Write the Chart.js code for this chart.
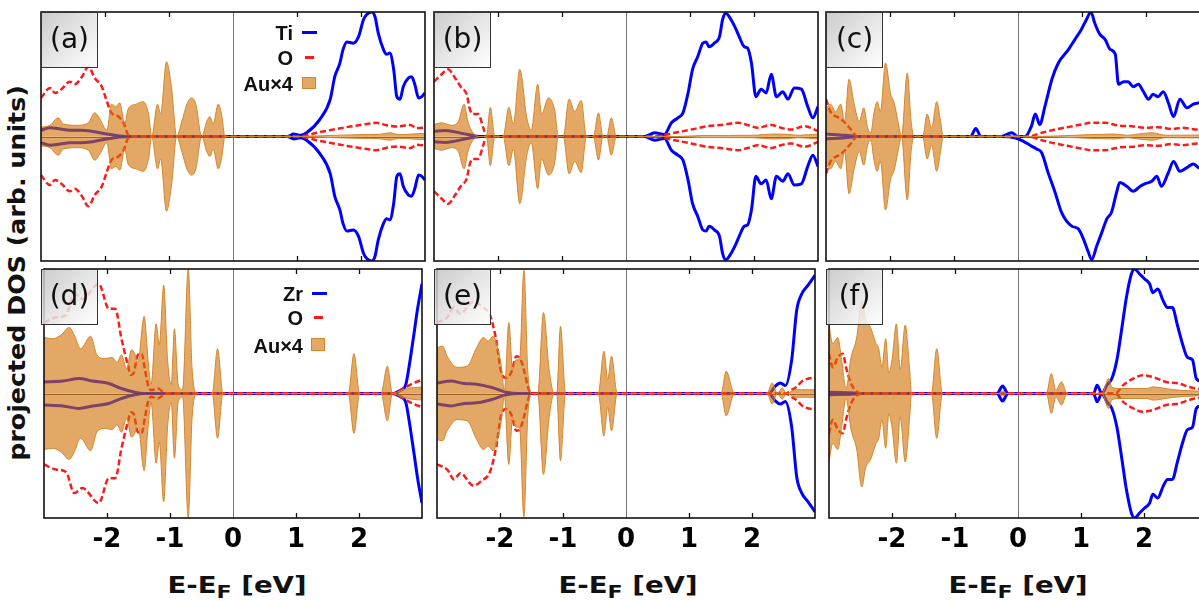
<!DOCTYPE html>
<html>
<head>
<meta charset="utf-8">
<script src="https://cdn.jsdelivr.net/npm/chart.js@4.4.0/dist/chart.umd.min.js"></script>
<style>
  html, body { margin: 0; padding: 0; background: #fff; }
  body { width: 1199px; height: 601px; position: relative; overflow: hidden; font-family: "DejaVu Sans", sans-serif; }
  canvas { position: absolute; }
  .tag { position: absolute; width: 57px; height: 56px; box-sizing: border-box; border: 1px solid #333;
         background: linear-gradient(135deg, rgba(195,195,195,0.85), rgba(255,255,255,0.85));
         font-size: 28px; line-height: 52px; text-align: center; color: #111; z-index: 2; }
  .lg { position: absolute; width: 100px; text-align: right; font-family: "Liberation Sans", Arial, sans-serif;
        font-weight: bold; font-size: 20px; line-height: 24px; color: #111; z-index: 2; }
  .sw { position: absolute; z-index: 2; }
  .xt { position: absolute; width: 240px; text-align: center; font-weight: bold; font-size: 23px; line-height: 30px;
        transform: scaleX(1.2); color: #111; }
  .xt sub { font-size: 0.8em; vertical-align: -0.25em; }
  .yt { position: absolute; left: -193px; top: 258px; width: 420px; height: 30px; text-align: center;
        font-weight: bold; font-size: 23px; line-height: 30px; transform: rotate(-90deg) scaleX(1.1); color: #111; }
</style>
</head>
<body>

<div class="yt">projected DOS (arb. units)</div>
<div class="xt" style="left:117px; top:570px;">E-E<sub>F</sub> [eV]</div>
<div class="xt" style="left:508px; top:570px;">E-E<sub>F</sub> [eV]</div>
<div class="xt" style="left:898px; top:570px;">E-E<sub>F</sub> [eV]</div>

<!-- legend, panel (a) -->
<div class="lg" style="left:193px; top:21px;">Ti</div>
<div class="lg" style="left:193px; top:46px;">O</div>
<div class="lg" style="left:193px; top:72px;">Au×4</div>
<div class="sw" style="left:302px; top:31px; width:15px; height:3px; background:#0000ff;"></div>
<div class="sw" style="left:305px; top:56px; width:9px; height:3px; background:#ff1a1a;"></div>
<div class="sw" style="left:302px; top:77px; width:14px; height:12px; box-sizing:border-box; border:1px solid #d4862a; background:rgba(210,110,0,0.6);"></div>

<!-- legend, panel (d) -->
<div class="lg" style="left:203px; top:282px;">Zr</div>
<div class="lg" style="left:203px; top:306px;">O</div>
<div class="lg" style="left:203px; top:334px;">Au×4</div>
<div class="sw" style="left:312px; top:292px; width:15px; height:3px; background:#0000ff;"></div>
<div class="sw" style="left:314px; top:316px; width:9px; height:3px; background:#ff1a1a;"></div>
<div class="sw" style="left:311px; top:338px; width:14px; height:13px; box-sizing:border-box; border:1px solid #d4862a; background:rgba(210,110,0,0.6);"></div>

<script>
// ── Data (energy in eV, DOS in arb. units; spin-down drawn on a reversed axis) ──

const energyTicks = [-3, -2, -1, 0, 1, 2, 3];
const panelTags = ["(a)", "(b)", "(c)", "(d)", "(e)", "(f)"];

// (a) Ti / O / Au
const tiA = [[-3.0,0.05],[-2.86,0.07],[-2.70,0.06],[-2.55,0.05],[-2.39,0.05],[-2.23,0.045],[-2.08,0.03],[-1.92,0.016],[-1.77,0.005],[-1.6,0],
  [0.85,0],[0.95,0.02],[1.05,0.01],[1.15,0.03],[1.36,0.14],[1.52,0.30],[1.59,0.48],[1.67,0.59],[1.72,0.70],[1.78,0.76],[1.88,0.75],
  [1.96,0.80],[2.04,0.94],[2.09,0.98],[2.17,1.0],[2.22,0.96],[2.27,0.83],[2.35,0.70],[2.40,0.66],[2.45,0.67],[2.51,0.54],[2.56,0.32],
  [2.61,0.30],[2.66,0.40],[2.74,0.47],[2.79,0.48],[2.84,0.42],[2.90,0.31],[2.95,0.32],[3.0,0.35]];
const oA = [[-3.0,0.31],[-2.86,0.39],[-2.78,0.35],[-2.68,0.38],[-2.55,0.44],[-2.47,0.42],[-2.36,0.48],[-2.26,0.56],[-2.16,0.47],[-2.05,0.40],
  [-1.97,0.28],[-1.90,0.19],[-1.79,0.16],[-1.71,0.11],[-1.64,0.016],[-1.56,0],[1.05,0],[1.31,0.03],[1.57,0.056],[1.83,0.08],[2.09,0.10],
  [2.24,0.11],[2.40,0.09],[2.56,0.08],[2.77,0.093],[2.87,0.067],[3.0,0.072]];
const auA = [[-3.0,0.075],[-2.86,0.09],[-2.73,0.15],[-2.65,0.10],[-2.44,0.09],[-2.26,0.11],[-2.16,0.19],[-2.08,0.14],[-1.97,0.05],[-1.90,0.26],
  [-1.83,0.24],[-1.77,0.27],[-1.69,0.10],[-1.64,0.22],[-1.51,0.26],[-1.40,0.28],[-1.32,0.18],[-1.27,0],[-1.18,0.26],[-1.13,0.18],[-1.04,0.60],
  [-0.96,0.39],[-0.88,0],[-0.80,0.12],[-0.72,0.26],[-0.65,0.31],[-0.58,0.26],[-0.49,0],[-0.41,0.12],[-0.36,0.16],[-0.31,0.10],[-0.23,0.26],
  [-0.18,0.18],[-0.125,0],[1.0,0],[1.5,0.008],[2.0,0.015],[2.3,0.018],[2.45,0.03],[2.6,0.015],[2.8,0.02],[3.0,0.025]];

// (b) Ti / O / Au
const tiB = [[-3.0,0.043],[-2.83,0.048],[-2.67,0.037],[-2.52,0.021],[-2.36,0.005],[-2.26,0],[0.29,0],[0.45,0.03],[0.60,0.016],[0.71,0.11],
  [0.81,0.15],[0.89,0.19],[0.97,0.35],[1.04,0.54],[1.12,0.64],[1.20,0.75],[1.25,0.76],[1.30,0.72],[1.38,0.75],[1.46,0.80],[1.51,0.94],
  [1.56,0.99],[1.64,0.94],[1.72,0.86],[1.77,0.80],[1.85,0.72],[1.90,0.71],[1.96,0.59],[2.03,0.32],[2.11,0.38],[2.19,0.35],[2.27,0.50],
  [2.35,0.32],[2.45,0.36],[2.53,0.30],[2.63,0.39],[2.74,0.38],[2.84,0.24],[2.92,0.15],[3.0,0.24]];
const oB = [[-3.0,0.44],[-2.88,0.50],[-2.78,0.54],[-2.67,0.47],[-2.57,0.39],[-2.49,0.34],[-2.44,0.22],[-2.39,0.18],[-2.31,0.18],[-2.23,0.07],
  [-2.18,0],[0.45,0],[0.76,0.03],[1.02,0.056],[1.28,0.083],[1.54,0.096],[1.75,0.11],[1.93,0.088],[2.06,0.07],[2.27,0.093],[2.42,0.07],
  [2.58,0.056],[2.79,0.083],[3.0,0.043]];
const auB = [[-3.0,0.096],[-2.88,0.11],[-2.73,0.09],[-2.62,0.12],[-2.53,0.26],[-2.47,0.12],[-2.39,0.03],[-2.28,0],[-2.18,0],[-2.12,0.235],
  [-2.05,0],[-1.92,0],[-1.83,0.235],[-1.76,0.10],[-1.66,0.54],[-1.55,0.15],[-1.48,0.05],[-1.38,0.42],[-1.32,0.18],[-1.21,0.31],[-1.11,0.20],
  [-1.06,0],[-0.98,0],[-0.89,0.30],[-0.80,0.20],[-0.70,0.29],[-0.62,0],[-0.51,0],[-0.43,0.19],[-0.36,0],[-0.30,0],[-0.23,0.15],[-0.15,0],
  [0.8,0],[1.2,0.008],[2.0,0.01],[2.3,0.02],[2.5,0.018],[2.7,0.01],[3.0,0.02]];

// (c) Ti (up and down differ) / O / Au
const tiCUp = [[-3.0,0.02],[-2.7,0.01],[-2.5,0],[-0.74,0],[-0.66,0.064],[-0.58,0],[-0.26,0],[-0.10,0.03],[0.0,0],[0.11,0],[0.21,0.083],
  [0.27,0.18],[0.34,0.096],[0.42,0.24],[0.53,0.46],[0.63,0.59],[0.79,0.70],[0.89,0.78],[0.99,0.86],[1.07,0.94],[1.14,1.0],[1.20,0.91],
  [1.28,0.82],[1.36,0.78],[1.44,0.70],[1.52,0.66],[1.57,0.42],[1.65,0.44],[1.72,0.44],[1.80,0.40],[1.88,0.42],[1.96,0.36],[2.04,0.30],
  [2.11,0.34],[2.19,0.32],[2.27,0.36],[2.35,0.27],[2.43,0.16],[2.53,0.30],[2.64,0.23],[2.74,0.26],[2.82,0.27],[2.9,0.28],[3.0,0.3]];
const tiCDown = [[-3.0,0.02],[-2.7,0.01],[-2.5,0],[-0.26,0],[-0.05,0.01],[0.08,0.037],[0.21,0.077],[0.29,0.10],[0.37,0.13],[0.47,0.29],
  [0.58,0.45],[0.68,0.61],[0.84,0.72],[0.94,0.74],[1.02,0.82],[1.10,0.93],[1.15,0.99],[1.23,0.88],[1.31,0.77],[1.39,0.66],[1.46,0.61],
  [1.54,0.45],[1.59,0.37],[1.70,0.40],[1.80,0.44],[1.91,0.40],[1.98,0.38],[2.09,0.36],[2.17,0.32],[2.24,0.40],[2.35,0.29],[2.43,0.20],
  [2.53,0.28],[2.64,0.25],[2.74,0.22],[2.82,0.25],[2.9,0.26],[3.0,0.27]];
const oC = [[-3.0,0.30],[-2.93,0.20],[-2.80,0.15],[-2.72,0.12],[-2.61,0.056],[-2.51,0],[0.16,0],[0.37,0.03],[0.58,0.056],[0.79,0.077],
  [0.99,0.096],[1.15,0.11],[1.36,0.11],[1.57,0.088],[1.78,0.083],[1.98,0.07],[2.19,0.075],[2.40,0.06],[2.56,0.07],[2.82,0.056],[3.0,0.06]];
const auC = [[-3.0,0.23],[-2.93,0.26],[-2.85,0.20],[-2.77,0.26],[-2.71,0.12],[-2.64,0.46],[-2.56,0.26],[-2.48,0.12],[-2.41,0.23],[-2.35,0.07],
  [-2.30,0.03],[-2.25,0.19],[-2.20,0.28],[-2.15,0.20],[-2.07,0.59],[-1.99,0.34],[-1.94,0.28],[-1.875,0.12],[-1.82,0],[-1.73,0.51],
  [-1.67,0.12],[-1.625,0],[-1.49,0],[-1.42,0.18],[-1.35,0.07],[-1.27,0.28],[-1.21,0.12],[-1.17,0],[0.2,0],[0.8,0.008],[1.5,0.02],
  [1.7,0.01],[1.96,0.025],[2.1,0.03],[2.3,0.01],[3.0,0.012]];

// (d) Zr / O / Au
const zrD = [[-3.0,0.093],[-2.70,0.10],[-2.44,0.12],[-2.23,0.10],[-1.97,0.08],[-1.77,0.04],[-1.56,0.01],[-1.40,0],[2.53,0],[2.66,0.027],
  [2.74,0.067],[2.79,0.20],[2.87,0.47],[2.93,0.68],[3.0,0.88]];
const oD = [[-3.0,0.57],[-2.81,0.61],[-2.65,0.63],[-2.52,0.80],[-2.39,0.76],[-2.13,0.88],[-1.97,0.68],[-1.87,0.68],[-1.77,0.44],[-1.67,0.23],
  [-1.62,0.15],[-1.58,0.16],[-1.51,0.31],[-1.45,0.32],[-1.40,0.20],[-1.35,0.07],[-1.30,0.027],[-1.19,0.04],[-1.11,0.013],[-1.03,0],
  [2.55,0],[2.7,0.04],[2.85,0.08],[3.0,0.11]];
const auD = [[-3.0,0.45],[-2.86,0.44],[-2.73,0.47],[-2.60,0.53],[-2.52,0.47],[-2.42,0.36],[-2.26,0.46],[-2.16,0.31],[-2.03,0.28],[-1.92,0.29],
  [-1.84,0.25],[-1.77,0.31],[-1.69,0.20],[-1.61,0.35],[-1.56,0.32],[-1.51,0.25],[-1.41,0.62],[-1.35,0.28],[-1.30,0.07],[-1.22,0.56],
  [-1.17,0.39],[-1.10,0.87],[-1.04,0.28],[-0.98,0.07],[-0.93,0.52],[-0.87,0.07],[-0.80,0.03],[-0.71,1.0],[-0.65,0.20],[-0.57,0],
  [-0.33,0],[-0.245,0.36],[-0.16,0],[1.83,0],[1.92,0.32],[2.01,0],[2.35,0],[2.45,0.22],[2.53,0],[2.61,0.013],[2.77,0.04],[3.0,0.053]];

// (e) Zr / O / Au
const zrE = [[-3.0,0.085],[-2.78,0.10],[-2.57,0.08],[-2.37,0.075],[-2.11,0.045],[-1.90,0.01],[-1.69,0],[2.27,0],[2.37,0.06],[2.45,0.085],
  [2.53,0.064],[2.63,0.27],[2.71,0.67],[2.79,0.80],[2.89,0.87],[3.0,0.95]];
const oE = [[-3.0,0.57],[-2.84,0.61],[-2.73,0.69],[-2.63,0.64],[-2.42,0.74],[-2.29,0.70],[-2.16,0.63],[-2.06,0.43],[-1.98,0.17],[-1.90,0.125],
  [-1.82,0.17],[-1.74,0.30],[-1.67,0.27],[-1.61,0.17],[-1.56,0.06],[-1.51,0],[2.55,0],[2.6,0.02],[2.7,0.05],[2.8,0.10],[2.9,0.12],[3.0,0.13]];
const auE = [[-3.0,0.37],[-2.91,0.38],[-2.84,0.30],[-2.68,0.21],[-2.52,0.22],[-2.37,0.37],[-2.26,0.45],[-2.19,0.42],[-2.11,0.46],[-2.03,0.35],
  [-1.98,0.22],[-1.93,0.02],[-1.86,0.57],[-1.80,0.19],[-1.75,0.27],[-1.69,0.27],[-1.62,0.99],[-1.56,0.19],[-1.49,0],[-1.40,0],[-1.31,0.65],
  [-1.22,0.19],[-1.14,0],[-1.10,0],[-1.04,0.54],[-0.96,0],[-0.44,0],[-0.35,0.34],[-0.29,0.11],[-0.23,0.30],[-0.14,0],[1.51,0],[1.59,0.18],
  [1.72,0],[2.24,0],[2.32,0.085],[2.40,0],[2.48,0.045],[2.55,0],[2.68,0.03],[3.0,0.03]];

// (f) Zr / O / Au
const zrF = [[-3.0,0.01],[-2.6,0.005],[-2.5,0],[-0.33,0],[-0.245,0.06],[-0.16,0],[1.20,0],[1.255,0.067],[1.33,0],[1.41,0.067],[1.49,0.12],
  [1.57,0.27],[1.65,0.53],[1.72,0.77],[1.80,0.96],[1.85,1.0],[1.93,0.96],[2.01,0.92],[2.09,0.88],[2.14,0.81],[2.22,0.84],[2.30,0.75],
  [2.375,0.69],[2.45,0.69],[2.53,0.55],[2.61,0.40],[2.69,0.29],[2.77,0.27],[2.83,0.12],[2.9,0.1],[3.0,0.1]];
const oF = [[-3.0,0.32],[-2.94,0.21],[-2.86,0.29],[-2.78,0.32],[-2.73,0.21],[-2.65,0.08],[-2.55,0.013],[-2.45,0],[1.54,0],[1.67,0.067],
  [1.83,0.12],[1.98,0.147],[2.14,0.133],[2.35,0.093],[2.56,0.08],[2.71,0.053],[2.82,0.04],[3.0,0.03]];
const auF = [[-3.0,0.55],[-2.94,0.40],[-2.86,0.45],[-2.80,0.27],[-2.73,0.04],[-2.65,0.29],[-2.56,0.45],[-2.48,0.75],[-2.42,0.60],[-2.34,0.53],
  [-2.26,0.41],[-2.21,0.36],[-2.16,0.21],[-2.10,0.44],[-2.05,0.16],[-2.0,0.27],[-1.93,0.56],[-1.87,0.19],[-1.79,0.55],[-1.72,0.19],
  [-1.69,0],[-1.375,0],[-1.29,0.36],[-1.20,0],[-0.30,0],[-0.24,0.02],[-0.18,0],[0.45,0],[0.53,0.16],[0.60,0.027],[0.69,0.093],[0.78,0],
  [1.33,0],[1.44,0.12],[1.49,0.05],[1.62,0.04],[2.04,0.04],[2.14,0.053],[2.45,0.032],[2.82,0.02],[3.0,0.02]];

// ── Layout ──

const BOX_W = 384, BOX_H = 249, PAD = 4, AXIS_H = 50;
const colLeft = [41, 434, 826];
const rowTop = [12, 269];

const panels = [
  { metalUp: tiA, metalDown: tiA, o: oA, au: auA },
  { metalUp: tiB, metalDown: tiB, o: oB, au: auB },
  { metalUp: tiCUp, metalDown: tiCDown, o: oC, au: auC },
  { metalUp: zrD, metalDown: zrD, o: oD, au: auD },
  { metalUp: zrE, metalDown: zrE, o: oE, au: auE },
  { metalUp: zrF, metalDown: zrF, o: oF, au: auF },
];

// ── Frame, inward ticks and zero lines ──

const framePlugin = {
  id: "frame",
  beforeDatasetsDraw(chart) {
    const { ctx, chartArea: a, scales } = chart;
    const x0 = scales.x.getPixelForValue(0);
    const y0 = scales.y.getPixelForValue(0);
    ctx.save();
    ctx.lineWidth = 1;
    ctx.strokeStyle = "#777";
    ctx.beginPath();
    ctx.moveTo(Math.round(x0) + 0.5, a.top);
    ctx.lineTo(Math.round(x0) + 0.5, a.bottom);
    ctx.stroke();
    ctx.strokeStyle = "#555";
    ctx.beginPath();
    ctx.moveTo(a.left, Math.round(y0) + 0.5);
    ctx.lineTo(a.right, Math.round(y0) + 0.5);
    ctx.stroke();
    ctx.restore();
  },
  afterDatasetsDraw(chart) {
    const { ctx, chartArea: a, scales } = chart;
    ctx.save();
    ctx.strokeStyle = "#111";
    ctx.lineWidth = 1.3;
    energyTicks.forEach((v) => {
      if (v <= -3 || v >= 3 || v === 0) return;
      const px = Math.round(scales.x.getPixelForValue(v)) + 0.5;
      ctx.beginPath();
      ctx.moveTo(px, a.top); ctx.lineTo(px, a.top + 5);
      ctx.moveTo(px, a.bottom); ctx.lineTo(px, a.bottom - 5);
      ctx.stroke();
    });
    ctx.lineWidth = 1.6;
    ctx.strokeRect(a.left, a.top, a.right - a.left, a.bottom - a.top);
    ctx.restore();
  },
};

function pts(arr) {
  return arr.map((p) => ({ x: p[0], y: p[1] }));
}

function lineSet(data, axis, color, width, dash, order) {
  return {
    data: pts(data), yAxisID: axis, borderColor: color, borderWidth: width, borderDash: dash,
    pointRadius: 0, fill: false, cubicInterpolationMode: "monotone", order: order,
  };
}

function auSet(data, axis) {
  return {
    data: pts(data), yAxisID: axis, borderColor: "rgb(212,134,42)", borderWidth: 1,
    backgroundColor: "rgba(210,110,0,0.6)", pointRadius: 0, fill: "origin",
    cubicInterpolationMode: "monotone", order: 1,
  };
}

panels.forEach((p, i) => {
  const col = i % 3, row = Math.floor(i / 3);
  const bottomRow = row === 1;
  const canvas = document.createElement("canvas");
  const w = BOX_W + 2 * PAD;
  const h = BOX_H + 2 * PAD + (bottomRow ? AXIS_H : 0);
  canvas.width = w; canvas.height = h;
  canvas.style.width = w + "px"; canvas.style.height = h + "px";
  canvas.style.left = (colLeft[col] - PAD) + "px";
  canvas.style.top = (rowTop[row] - PAD) + "px";
  document.body.appendChild(canvas);

  const tag = document.createElement("div");
  tag.className = "tag";
  tag.textContent = panelTags[i];
  tag.style.left = colLeft[col] + "px";
  tag.style.top = rowTop[row] + "px";
  document.body.appendChild(tag);

  const xAxis = {
    type: "linear", min: -3, max: 3, display: bottomRow,
    grid: { display: false, drawTicks: false },
    border: { display: false },
    ticks: {
      stepSize: 1, autoSkip: false, maxRotation: 0, padding: 7, color: "#000",
      font: { family: "DejaVu Sans", size: 26, weight: "bold" },
      callback: (v) => (v <= -3 || v >= 3 ? "" : String(v)),
    },
  };
  if (bottomRow) xAxis.afterFit = (s) => { s.height = AXIS_H; };

  new Chart(canvas.getContext("2d"), {
    type: "line",
    data: {
      datasets: [
        auSet(p.au, "y"),
        auSet(p.au, "yDown"),
        lineSet(p.o, "y", "#ff1a1a", 2.5, [6, 3], 2),
        lineSet(p.o, "yDown", "#ff1a1a", 2.5, [6, 3], 2),
        lineSet(p.metalUp, "y", "#0000ff", 3, [], 3),
        lineSet(p.metalDown, "yDown", "#0000ff", 3, [], 3),
      ],
    },
    options: {
      responsive: false,
      devicePixelRatio: 1,
      animation: false,
      layout: { padding: { left: PAD, right: PAD, top: PAD, bottom: PAD } },
      plugins: { legend: { display: false }, tooltip: { enabled: false } },
      scales: {
        x: xAxis,
        y: { min: -1, max: 1, display: false },
        yDown: { min: -1, max: 1, reverse: true, display: false },
      },
    },
    plugins: [framePlugin],
  });
});
</script>
</body>
</html>
